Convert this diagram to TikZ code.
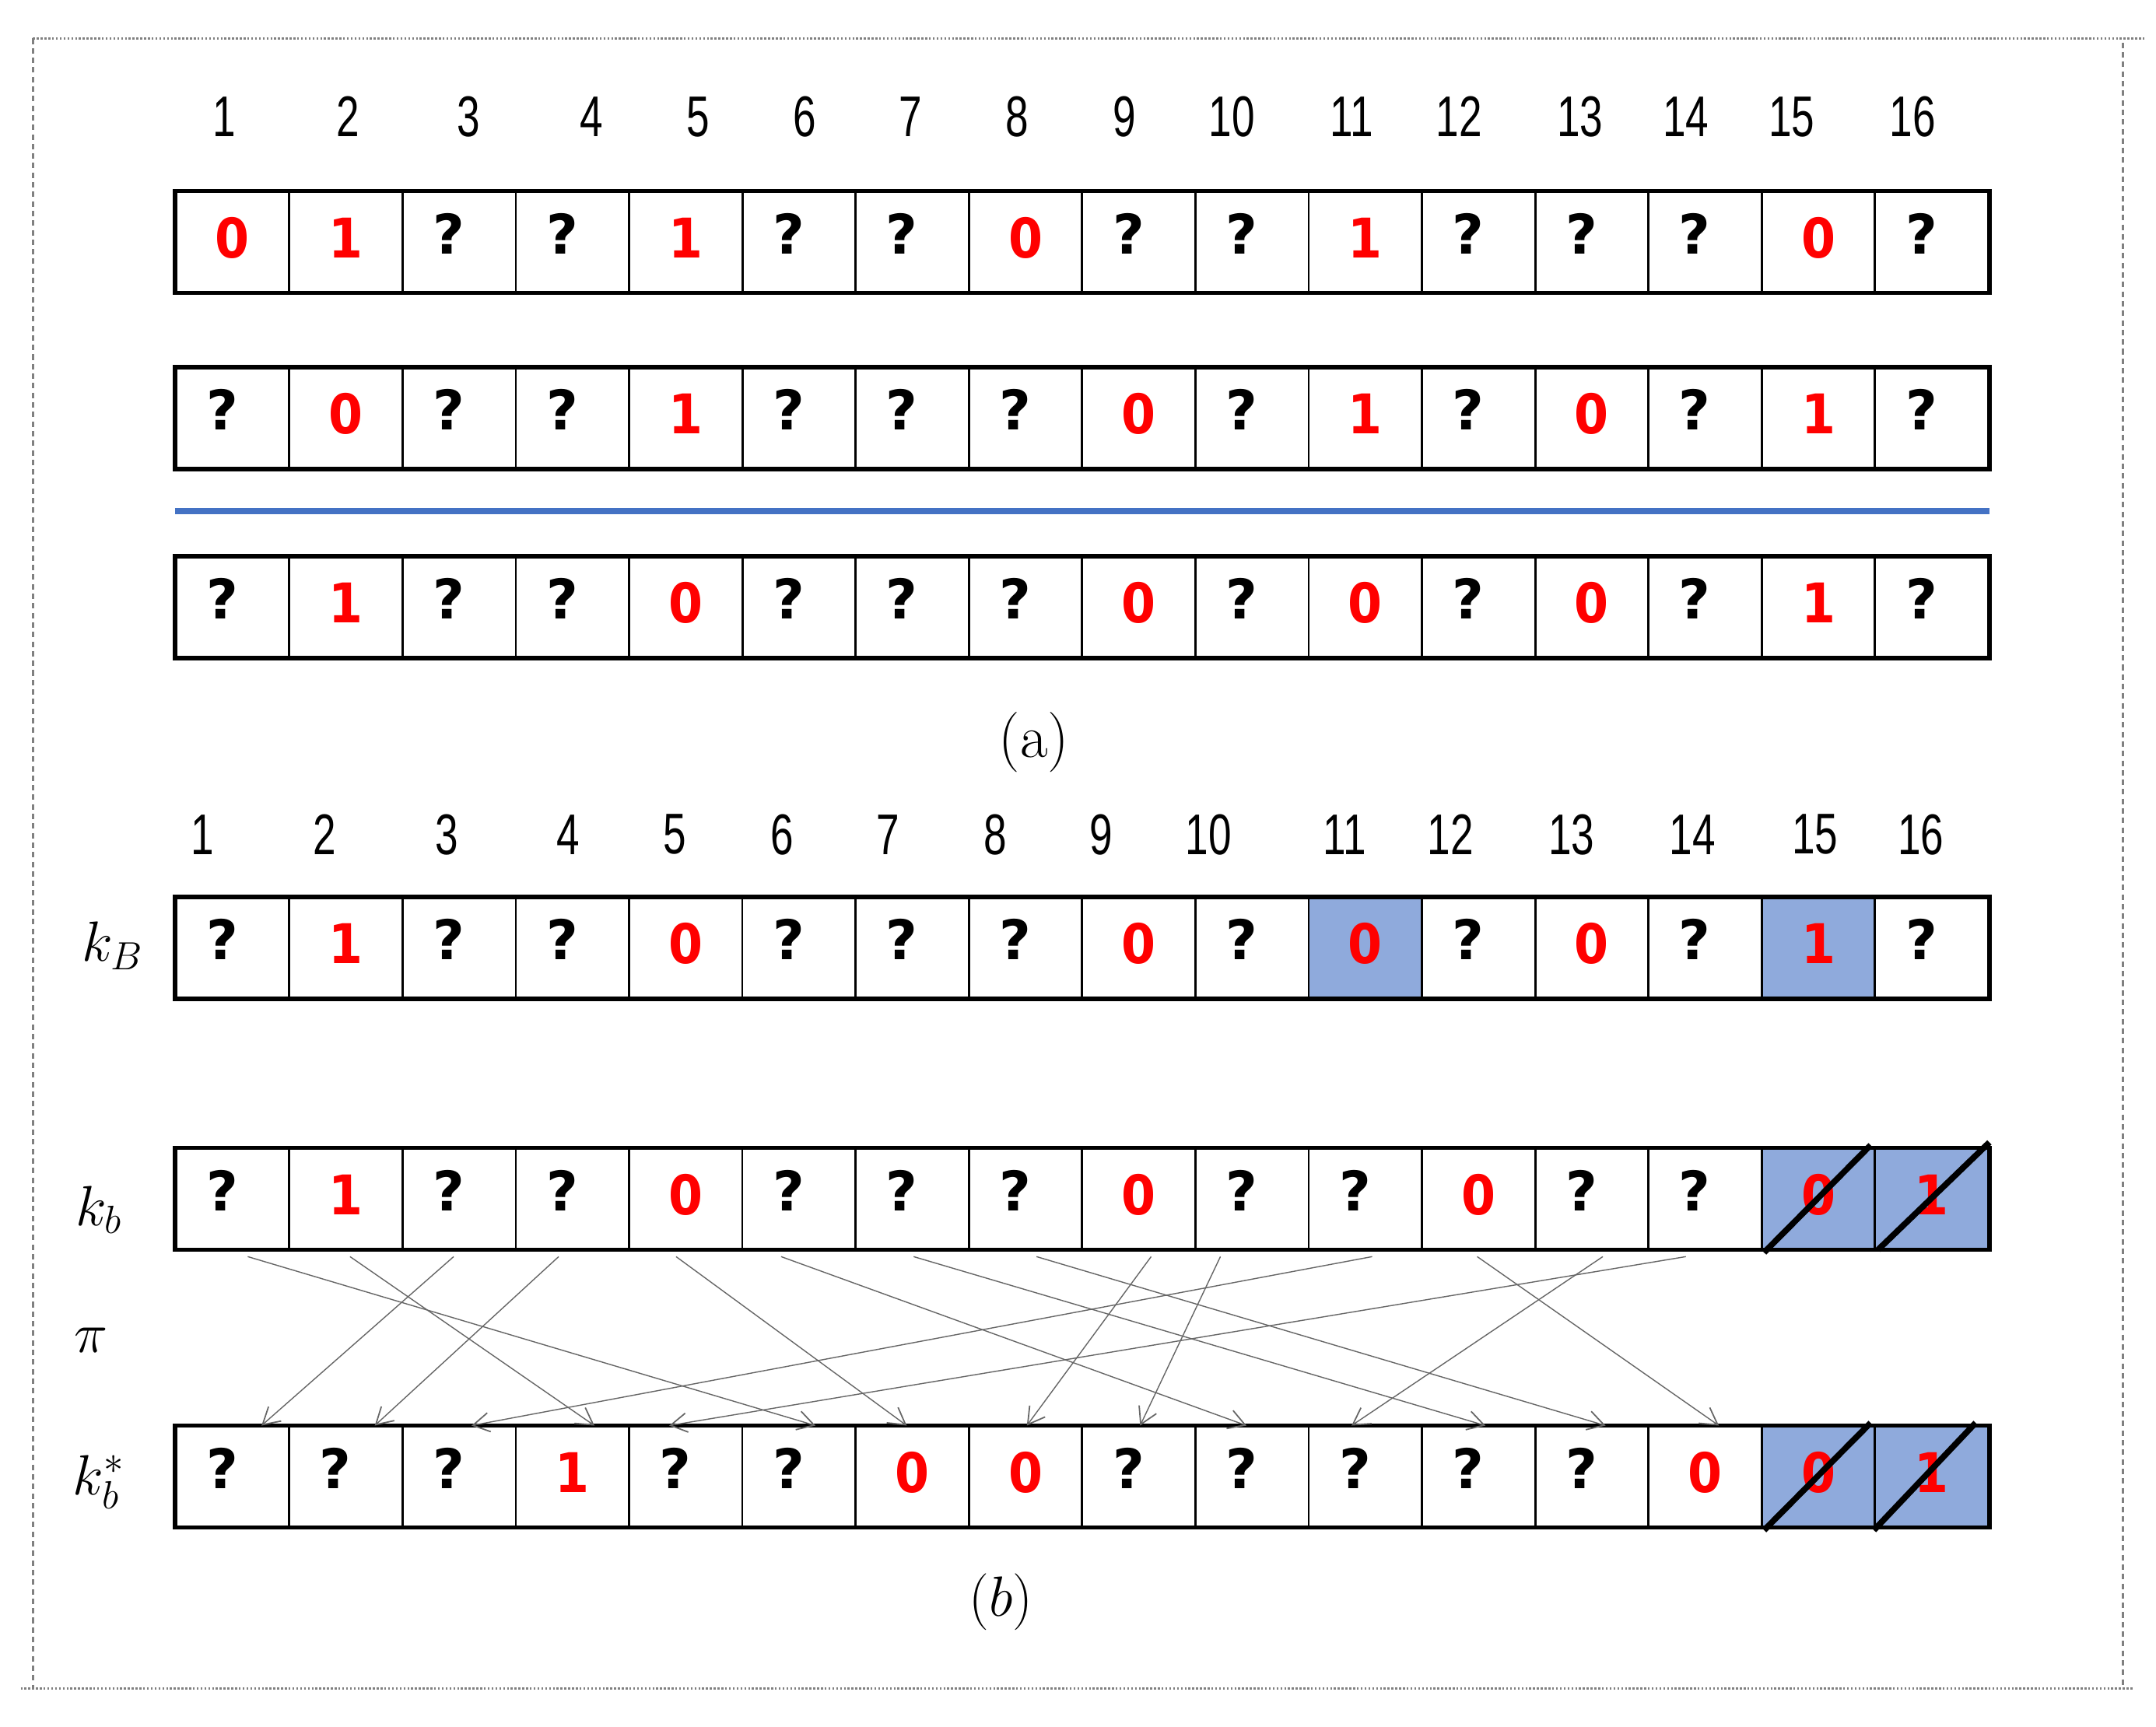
\documentclass[tikz,border=0pt]{standalone}
\usepackage{fontspec}
\usetikzlibrary{arrows.meta,calc}
\newfontfamily\numfont[FakeStretch=0.72]{Liberation Sans}
\newfontfamily\cellfont{DejaVu Sans}
\newfontfamily\digitfont[FakeStretch=0.9]{DejaVu Sans}
\definecolor{cellblue}{HTML}{8FAADC}
\definecolor{lineblue}{HTML}{4472C4}
\definecolor{digitred}{HTML}{FF0000}
\newcommand\cv[1]{\edef\tmpv{#1}\def\tmpq{?}\ifx\tmpv\tmpq\raisebox{3pt}{\textcolor{black}{?}}\kern7.5pt\else\raisebox{1.5pt}{\digitfont\bfseries\textcolor{digitred}{#1}}\fi}
\tikzset{
  cell/.style={draw=black, line width=0.8pt, minimum width=1.4557cm, minimum height=1.2812cm,
    inner sep=0pt, font={\cellfont\bfseries\fontsize{20}{24}\selectfont}, text height=14.6pt, text depth=0pt},
  outer/.style={line width=1.6pt},
  idx/.style={font={\numfont\fontsize{21}{25}\selectfont}, inner sep=0pt},
  lbl/.style={font={\fontsize{22}{26}\selectfont}, inner sep=0pt},
  perm/.style={gray!80!black, line width=0.4pt, -{Straight Barb[length=6pt,width=7pt,line width=0.5pt]}},
  slash/.style={line width=2.2pt, black},
  frameh/.style={gray, line width=0.9pt, dash pattern=on 0.7pt off 0.7pt},
  framev/.style={gray, line width=0.9pt, dash pattern=on 2pt off 1.5pt},
}
\begin{document}
\begin{tikzpicture}[x=0.017672cm, y=-0.017672cm]
\useasboundingbox (0,0) rectangle (1568,1256);
% frame
\coordinate (ftl) at (24,28);
\coordinate (ftr) at (1560,28);
\coordinate (fbl) at (15,1228);
\coordinate (fbr) at (1552,1228);
\draw[frameh] (ftl) -- (ftr);
\draw[frameh] (fbl) -- (fbr);
\draw[framev] (24,28) -- (24,1228);
\draw[framev] (1544,31) -- (1544,1228);

% (a) indices
\foreach \x [count=\i] in {163,253,341,430,508,585,662,740,818,896,983,1061,1149,1226,1303,1391}
  \node[idx] (na-\i) at (\x,85) {\i};
% (a) rows
\foreach \v [count=\i] in {0,1,?,?,1,?,?,0,?,?,1,?,?,?,0,?}
  \node[cell] (a1-\i) at ({128+82.375*(\i-0.5)},176) {\cv{\v}};
\foreach \v [count=\i] in {?,0,?,?,1,?,?,?,0,?,1,?,0,?,1,?}
  \node[cell] (a2-\i) at ({128+82.375*(\i-0.5)},304) {\cv{\v}};
\foreach \v [count=\i] in {?,1,?,?,0,?,?,?,0,?,0,?,0,?,1,?}
  \node[cell] (a3-\i) at ({128+82.375*(\i-0.5)},441.5) {\cv{\v}};
\draw[outer] (a1-1.north west) rectangle (a1-16.south east);
\draw[outer] (a2-1.north west) rectangle (a2-16.south east);
\draw[outer] (a3-1.north west) rectangle (a3-16.south east);
\draw[lineblue, line width=2.3pt] ($(a2-1.south west)+(0,30.5)$) -- ($(a2-16.south east)+(0,30.5)$);
\node[lbl] (capa) at (752,540) {(a)};

% (b) indices
\foreach \x [count=\i] in {147,236,325,413,491,569,646,724,801,879,978,1055,1143,1231,1320,1397}
  \node[idx] (nb-\i) at (\x,607) {\i};
% kB
\foreach \v/\f [count=\i] in {?/white,1/white,?/white,?/white,0/white,?/white,?/white,?/white,0/white,?/white,0/cellblue,?/white,0/white,?/white,1/cellblue,?/white}
  \node[cell, fill=\f] (kB-\i) at ({128+82.375*(\i-0.5)},689.5) {\cv{\v}};
% kb
\foreach \v/\f [count=\i] in {?/white,1/white,?/white,?/white,0/white,?/white,?/white,?/white,0/white,?/white,?/white,0/white,?/white,?/white,0/cellblue,1/cellblue}
  \node[cell, fill=\f] (kb-\i) at ({128+82.375*(\i-0.5)},872) {\cv{\v}};
% kb*
\foreach \v/\f [count=\i] in {?/white,?/white,?/white,1/white,?/white,?/white,0/white,0/white,?/white,?/white,?/white,?/white,?/white,0/white,0/cellblue,1/cellblue}
  \node[cell, fill=\f] (ks-\i) at ({128+82.375*(\i-0.5)},1074) {\cv{\v}};
\draw[outer] (kB-1.north west) rectangle (kB-16.south east);
\draw[outer] (kb-1.north west) rectangle (kb-16.south east);
\draw[outer] (ks-1.north west) rectangle (ks-16.south east);

% slashes
\draw[slash] ($(kb-15.south west)+(2.5,2)$) -- ($(kb-15.north east)+(-4,-2)$);
\draw[slash] ($(kb-16.south west)+(3,0)$) -- ($(kb-16.north east)+(0,-4)$);
\draw[slash] ($(ks-15.south west)+(2.5,2)$) -- ($(ks-15.north east)+(-4,-2)$);
\draw[slash] ($(ks-16.south west)+(0,2)$) -- ($(ks-16.north east)+(-10,-2)$);

% labels
\node[lbl] (lkB) at (82,688) {$k_B$};
\node[lbl] (lkb) at (72,880) {$k_b$};
\node[lbl] (lpi) at (66,975) {$\pi$};
\node[lbl] (lks) at (72,1078) {$k_b^*$};
\node[lbl] (capb) at (728,1165) {$(b)$};

% permutation arrows
\foreach \s/\sd/\t/\td in {1/11/6/12, 2/3/4/16, 3/-4/1/21, 4/-10/2/21, 5/-7/7/-4, 6/-13/10/-4, 7/1/12/5, 8/8/13/10, 9/9/8/1, 10/-23/9/1, 11/5/3/9, 12/-1/14/10, 13/8/11/-10, 14/-14/5/-12}
  \draw[perm] ($(kb-\s.south)+(\sd,5)$) -- ($(ks-\t.north)+(\td,0)$);
\end{tikzpicture}
\end{document}
